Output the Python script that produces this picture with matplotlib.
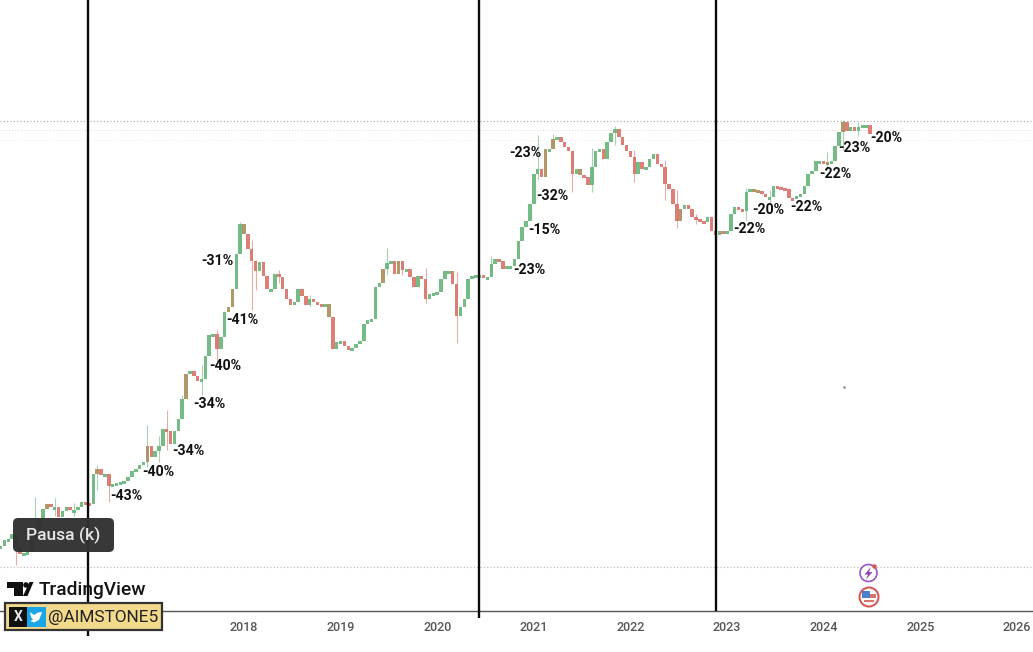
import matplotlib
matplotlib.use("Agg")
import matplotlib.pyplot as plt
from matplotlib.patches import Circle, FancyBboxPatch, Polygon, Rectangle

# candle closes, one every 0.04 year, as height on the chart (0 = top)
start_year = 2015.48
step = 0.04
closes = [
    547, 541, 540, 535, 548, 555, 554, 553, 540, 530, 520, 510, 505, 508, 508, 518, 512, 508, 511, 511,
    508, 503, 504, 505, 475, 470, 476, 475, 487, 485, 484, 483, 482, 478, 472, 470, 466, 463, 447, 458,
    452, 447, 430, 432, 445, 432, 420, 400, 375, 372, 377, 382, 380, 357, 336, 335, 350, 338, 313, 308,
    290, 255, 225, 235, 250, 262, 272, 263, 277, 290, 290, 275, 278, 290, 300, 306, 303, 290, 297, 306,
    300, 303, 305, 306, 305, 318, 350, 343, 342, 347, 351, 349, 345, 342, 325, 321, 320, 288, 284, 270,
    264, 262, 275, 262, 271, 270, 278, 288, 277, 280, 300, 295, 294, 293, 280, 272, 272, 285, 317, 308,
    300, 280, 277, 276, 276, 278, 278, 265, 260, 262, 270, 267, 267, 260, 242, 228, 222, 205, 175, 170,
    178, 150, 150, 140, 138, 143, 148, 152, 175, 170, 176, 178, 186, 168, 152, 150, 160, 143, 134, 130,
    138, 146, 152, 158, 175, 163, 170, 168, 160, 155, 165, 168, 185, 190, 205, 222, 210, 206, 210, 218,
    220, 222, 223, 218, 232, 236, 232, 233, 232, 215, 208, 210, 212, 193, 190, 191, 192, 195, 198, 198,
    187, 188, 189, 190, 199, 200, 197, 195, 187, 175, 172, 162, 162, 163, 163, 162, 147, 133, 123, 132,
    128, 132, 128, 126, 126, 135,
]
# long wicks that stick out of the bodies: candle number, upper end, lower end
wick_index = [4, 9, 14, 19, 25, 28, 38, 41, 43, 47, 52, 56, 62, 65, 66, 72, 80, 100, 104, 110, 118, 127, 139, 143, 148, 153, 159, 164, 172, 175, 180, 185, 193, 199, 214, 218, 222]
wick_high = [535, 497, 498, 503, 465, 475, 425, 436, 410, 395, 365, 330, 222, 240, 260, 270, 295, 248, 262, 268, 272, 256, 135, 134, 150, 148, 126, 150, 160, 190, 214, 222, 188, 190, 152, 120, 122]
wick_low = [565, 533, 516, 516, 490, 502, 467, 462, 450, 405, 395, 362, 250, 310, 290, 283, 306, 275, 275, 303, 343, 272, 180, 146, 192, 192, 145, 182, 200, 228, 224, 238, 220, 203, 170, 150, 136]
brown_index = [12, 25, 38, 48, 59, 60, 63, 85, 99, 103, 141, 143, 150, 176, 195, 196, 214, 218]

year_labels = [2018, 2019, 2020, 2021, 2022, 2023, 2024, 2025, 2026]
cycle_lines = [2016.385, 2020.433, 2022.891]
cycle_line_ends = [636, 618, 611]

pct_labels = ["-43%", "-40%", "-34%", "-34%", "-40%", "-41%", "-31%", "-23%", "-15%",
              "-32%", "-23%", "-22%", "-20%", "-22%", "-22%", "-23%", "-20%"]
pct_x = [110, 142, 172, 193, 209, 226, 201, 513, 528, 536, 509, 733, 752, 790, 819, 838, 870]
pct_y = [496, 472, 451, 404, 366, 320, 261, 270, 230, 196, 153, 229, 210, 207, 174, 148, 138]

GREEN = "#69b57c"
RED = "#d9756b"
BROWN = "#ab8f5c"

fig = plt.figure(figsize=(10.33, 6.52), dpi=100)
plt.rcParams["font.family"] = ["Roboto", "DejaVu Sans"]

# price pane, stops at the time axis
ax = fig.add_axes([0, 1 - 611 / 652, 1, 611 / 652])
ax.set_xlim(2015.474, 2015.474 + 1033 / 96.6)
ax.set_ylim(611, 0)

years = [start_year + step * i for i in range(len(closes))]
for i, c in enumerate(closes):
    prev = closes[i - 1] if i > 0 else c
    color = GREEN if c <= prev else RED
    if i in brown_index:
        color = BROWN
    ax.bar(years[i], max(abs(c - prev), 2.5), bottom=min(c, prev) - 0.8, width=0.036, color=color, linewidth=0, alpha=0.92, zorder=3)

for i, hi, lo in zip(wick_index, wick_high, wick_low):
    prev = closes[i - 1] if i > 0 else closes[i]
    color = GREEN if closes[i] <= prev else RED
    ax.vlines(years[i], hi, lo, color=color, linewidth=0.8, alpha=0.6, zorder=2)

ax.axhline(121, color="#a0a0a0", linewidth=0.8, linestyle=(0, (1, 2)), zorder=1)
ax.axhline(130, color="#e8cfcf", linewidth=0.7, linestyle=(0, (1, 2)), zorder=1)
ax.axhline(140, color="#ececec", linewidth=0.7, linestyle=(0, (1, 2)), zorder=1)
ax.axhline(567, color="#b5b5b5", linewidth=0.8, linestyle=(0, (1, 2)), zorder=1)

ax.set_xticks(year_labels)
ax.set_xticklabels([str(y) for y in year_labels], fontsize=9, color="#555555", fontweight="medium")
ax.tick_params(axis="x", length=0, pad=7)
ax.set_yticks([])
for name in ["top", "left", "right"]:
    ax.spines[name].set_visible(False)
ax.spines["bottom"].set_color("#555555")
ax.spines["bottom"].set_linewidth(1.0)

# everything pasted on top of the chart, placed in picture pixels
over = fig.add_axes([0, 0, 1, 1])
over.set_xlim(0, 1033)
over.set_ylim(652, 0)
over.axis("off")
over.patch.set_alpha(0)

for x, end in zip(cycle_lines, cycle_line_ends):
    px = (x - 2015.474) * 96.6
    over.plot([px, px], [0, end], color="#0b0b0b", linewidth=1.7, solid_capstyle="butt", zorder=2)

for label, x, y in zip(pct_labels, pct_x, pct_y):
    over.text(x, y, label, fontsize=10.2, fontweight="bold", color="#111111", ha="left", va="center", zorder=4)

# pause tooltip
over.add_patch(FancyBboxPatch((13, 518), 101, 34, boxstyle="round,pad=0,rounding_size=5", linewidth=0, facecolor="#303030", alpha=0.96, zorder=5))
over.text(63.5, 535, "Pausa (k)", fontsize=12.6, fontweight="medium", color="#e6e6e6", ha="center", va="center", zorder=6)

# TradingView logo
over.add_patch(Polygon([(6.5, 582), (22.5, 582), (22.5, 596), (14, 596), (14, 588), (6.5, 588)], facecolor="#111111", linewidth=0, zorder=6))
over.add_patch(Circle((26, 585), 2.8, facecolor="#111111", linewidth=0, zorder=6))
over.add_patch(Polygon([(29.5, 582), (33.5, 582), (27.5, 596), (23, 596)], facecolor="#111111", linewidth=0, zorder=6))
over.text(39, 590, "TradingView", fontsize=13.8, fontweight="medium", color="#131313", ha="left", va="center", zorder=6)

# handle badge
over.add_patch(Rectangle((5, 603), 157, 27, facecolor="#f2d98c", edgecolor="#333333", linewidth=1.6, zorder=6))
over.add_patch(Rectangle((9, 607), 18, 20, facecolor="#111111", linewidth=0, zorder=7))
over.add_patch(Rectangle((27, 607), 18.5, 20, facecolor="#19a5e6", linewidth=0, zorder=7))
over.text(18, 617, "X", fontsize=10, fontweight="bold", color="#e8e8e8", ha="center", va="center", zorder=8)
over.add_patch(Polygon([(30, 612), (34, 615), (38, 612.5), (42, 612), (41, 615), (39, 620), (34, 622.5), (30, 621), (33, 620), (31, 617)],
                       facecolor="white", linewidth=0, zorder=8))
over.text(48, 617.5, "@AIMSTONE5", fontsize=12.4, color="#222222", ha="left", va="center", zorder=8)

# event icons on the time axis
over.add_patch(Circle((868.5, 573), 8.5, facecolor="white", edgecolor="#9a55c2", linewidth=1.2, zorder=4))
over.add_patch(Polygon([(871, 567), (864.5, 574.5), (868, 574.5), (866, 579.5), (872.5, 572), (869, 572)], facecolor="#8e44b8", linewidth=0, zorder=5))
over.add_patch(Circle((874.5, 566.5), 2.2, facecolor="#d9534f", linewidth=0, zorder=5))
over.add_patch(Circle((869, 597), 9.5, facecolor="white", edgecolor="#d65a5a", linewidth=1.5, zorder=4))
over.add_patch(Rectangle((862, 591), 8, 7, facecolor="#4a7fd0", linewidth=0, zorder=5))
over.add_patch(Rectangle((870, 594), 6, 3.5, facecolor="#d9716b", linewidth=0, zorder=5))
over.add_patch(Rectangle((864, 600), 10, 2, facecolor="#d9716b", linewidth=0, zorder=5))
over.plot([844], [387], marker="o", markersize=1, color="#999999", zorder=2)

fig.savefig("out.png", dpi=100)
